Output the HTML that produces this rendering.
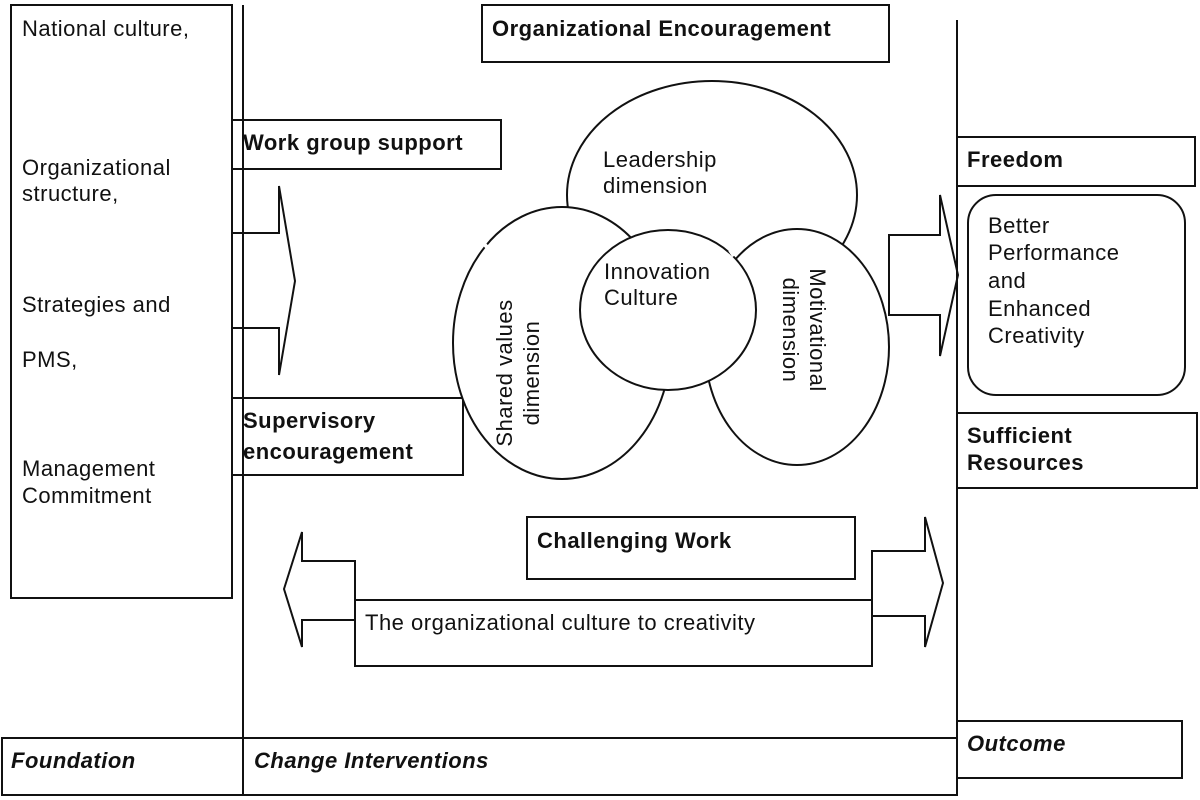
<!DOCTYPE html>
<html><head><meta charset="utf-8"><style>
html,body{margin:0;padding:0;background:#fff;}
svg{display:block;}
text{font-family:"Liberation Sans",Arial,sans-serif;font-size:22px;letter-spacing:0.5px;fill:#111;}
.b{font-weight:bold;}
.bi{font-weight:bold;font-style:italic;}
</style></head><body>
<svg width="1200" height="800" viewBox="0 0 1200 800" xmlns="http://www.w3.org/2000/svg">
<g fill="#fff" stroke="#111" stroke-width="2">
<rect x="11" y="5" width="221" height="593"/>
<rect x="2" y="738" width="241" height="57"/>
<rect x="243" y="738" width="714" height="57"/>
<rect x="957" y="721" width="225" height="57"/>
<rect x="482" y="5" width="407" height="57"/>
<rect x="232" y="120" width="269" height="49"/>
<rect x="232" y="398" width="231" height="77"/>
<rect x="957" y="137" width="238" height="49"/>
<rect x="968" y="195" width="217" height="200" rx="28"/>
<rect x="957" y="413" width="240" height="75"/>
<rect x="527" y="517" width="328" height="62"/>
<polygon points="232,233 279,233 279,186 295,281 279,375 279,328 232,328"/>
<polygon points="889,235 940,235 940,195 958,275 940,356 940,315 889,315"/>
<polygon points="355,561 302,561 302,532 284,589 302,647 302,620 355,620"/>
<polygon points="872,551 925,551 925,517 943,583 925,647 925,616 872,616"/>
<rect x="355" y="600" width="517" height="66"/>
<ellipse cx="712" cy="195" rx="145" ry="114"/>
<ellipse cx="562" cy="343" rx="109" ry="136"/>
<ellipse cx="797" cy="347" rx="92" ry="118"/>
<ellipse cx="668" cy="310" rx="88" ry="80"/>
</g>
<line x1="243" y1="5" x2="243" y2="795" stroke="#111" stroke-width="2"/>
<line x1="957" y1="20" x2="957" y2="738" stroke="#111" stroke-width="2"/>
<g stroke="#fff" stroke-width="4">
<line x1="478" y1="238" x2="490" y2="250"/>
<line x1="478" y1="440" x2="484" y2="452"/>
<line x1="596" y1="246" x2="606" y2="238"/>
<line x1="730" y1="250" x2="734" y2="256"/>
</g>
<text x="22" y="36">National culture,</text>
<text x="22" y="175">Organizational</text>
<text x="22" y="201">structure,</text>
<text x="22" y="312"> Strategies and</text>
<text x="22" y="367">PMS,</text>
<text x="22" y="476">Management</text>
<text x="22" y="503">Commitment</text>
<text class="b" x="492" y="36">Organizational Encouragement</text>
<text class="b" x="243" y="150">Work group support</text>
<text class="b" x="243" y="428">Supervisory</text>
<text class="b" x="243" y="459">encouragement</text>
<text x="603" y="167">Leadership</text>
<text x="603" y="193">dimension</text>
<text x="604" y="279">Innovation</text>
<text x="604" y="305">Culture</text>
<text transform="translate(512,373) rotate(-90)" text-anchor="middle">Shared values</text>
<text transform="translate(539,373) rotate(-90)" text-anchor="middle">dimension</text>
<text transform="translate(810,330) rotate(90)" text-anchor="middle">Motivational</text>
<text transform="translate(783,330) rotate(90)" text-anchor="middle">dimension</text>
<text class="b" x="967" y="167">Freedom</text>
<text x="988" y="233">Better</text>
<text x="988" y="260">Performance</text>
<text x="988" y="288">and</text>
<text x="988" y="316">Enhanced</text>
<text x="988" y="343">Creativity</text>
<text class="b" x="967" y="443">Sufficient</text>
<text class="b" x="967" y="470">Resources</text>
<text class="b" x="537" y="548">Challenging Work</text>
<text x="365" y="630">The organizational culture to creativity</text>
<text class="bi" x="11" y="768">Foundation</text>
<text class="bi" x="254" y="768">Change Interventions</text>
<text class="bi" x="967" y="751">Outcome</text>
</svg>
</body></html>
